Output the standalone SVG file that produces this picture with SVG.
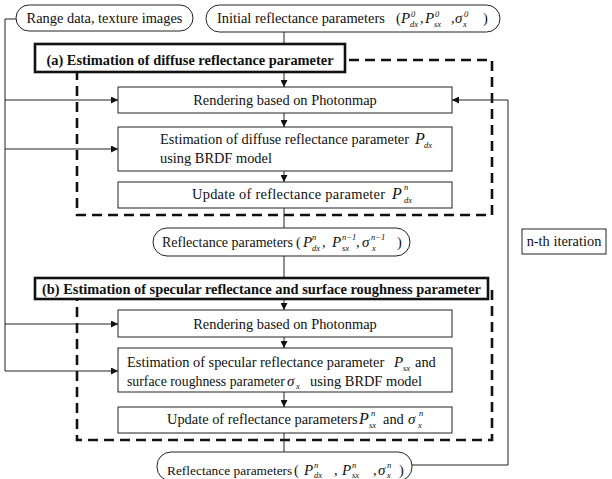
<svg xmlns="http://www.w3.org/2000/svg" width="612" height="479" viewBox="0 0 612 479" font-family="Liberation Serif, DejaVu Serif, serif">
<defs>
<marker id="arr" markerUnits="userSpaceOnUse" markerWidth="7" markerHeight="7" refX="7" refY="3.5" orient="auto">
<path d="M0,0 L7,3.5 L0,7 z" fill="#111"/>
</marker>
<style>
text{font-family:'Liberation Serif','DejaVu Serif',serif;font-size:14.4px;fill:#111}
.b{font-weight:bold}
.m{font-style:italic;font-size:15px}
.s{font-size:8.5px;font-style:italic}
.box{fill:#fff;stroke:#222;stroke-width:1}
.hdr{fill:#fff;stroke:#111;stroke-width:2.6}
.dash{fill:none;stroke:#111;stroke-width:2.6;stroke-dasharray:10,6}
.ln{fill:none;stroke:#222;stroke-width:1}
</style>
</defs>
<rect width="612" height="479" fill="#fff"/>

<g id="dashed-frames">
<rect class="dash" x="77" y="60" width="415" height="155"/>
<rect class="dash" x="77" y="289" width="415" height="151"/>
</g>

<g id="connectors">
<path class="ln" d="M16,19 H5 V371"/>
<path class="ln" d="M5,100 H118" marker-end="url(#arr)"/>
<path class="ln" d="M5,149 H118" marker-end="url(#arr)"/>
<path class="ln" d="M5,324 H118" marker-end="url(#arr)"/>
<path class="ln" d="M5,371 H118" marker-end="url(#arr)"/>
<path class="ln" d="M284,32 V44"/>
<path class="ln" d="M284,72 V87" marker-end="url(#arr)"/>
<path class="ln" d="M284,113 V127" marker-end="url(#arr)"/>
<path class="ln" d="M284,171 V182" marker-end="url(#arr)"/>
<path class="ln" d="M284,208 V228"/>
<path class="ln" d="M284,256 V278"/>
<path class="ln" d="M284,299 V310" marker-end="url(#arr)"/>
<path class="ln" d="M284,337 V348" marker-end="url(#arr)"/>
<path class="ln" d="M284,392 V407" marker-end="url(#arr)"/>
<path class="ln" d="M284,433 V452"/>
<path class="ln" d="M412,465 H508 V100 H452" marker-end="url(#arr)"/>
</g>

<g id="range-data">
<rect class="box" x="16" y="5" width="177" height="26" rx="13"/>
<text x="104.5" y="23" text-anchor="middle">Range data, texture images</text>
</g>

<g id="initial-params">
<rect class="box" x="206" y="5" width="294" height="27" rx="13.5"/>
<text x="217" y="23">Initial reflectance parameters</text>
<text x="396" y="23">(</text>
<text class="m" x="401" y="23">P</text><text class="s" x="411" y="17">0</text><text class="s" x="410" y="27">dx</text>
<text x="420" y="23">,</text>
<text class="m" x="425" y="23">P</text><text class="s" x="435" y="17">0</text><text class="s" x="434" y="27">sx</text>
<text x="451" y="23">,</text>
<text class="m" x="455" y="23">σ</text><text class="s" x="464" y="17">0</text><text class="s" x="463" y="27">x</text>
<text x="483" y="23">)</text>
</g>

<g id="header-a">
<rect class="hdr" x="35" y="44" width="310" height="28"/>
<text class="b" x="190" y="65" text-anchor="middle">(a) Estimation of diffuse reflectance parameter</text>
</g>

<g id="rendering-a">
<rect class="box" x="118" y="87" width="334" height="26"/>
<text x="285" y="105" text-anchor="middle">Rendering based on Photonmap</text>
</g>

<g id="estimation-a">
<rect class="box" x="118" y="127" width="334" height="44"/>
<text x="160" y="144">Estimation of diffuse reflectance parameter</text>
<text class="m" x="415" y="144" style="font-size:16px">P</text><text class="s" x="424" y="148">dx</text>
<text x="160" y="163">using BRDF model</text>
</g>

<g id="update-a">
<rect class="box" x="118" y="182" width="334" height="26"/>
<text x="192" y="199" textLength="193" lengthAdjust="spacing">Update of reflectance parameter</text>
<text class="m" x="392" y="199" style="font-size:16px">P</text><text class="s" x="404" y="190">n</text><text class="s" x="404" y="203">dx</text>
</g>

<g id="params-mid">
<rect class="box" x="153" y="228" width="257" height="28" rx="14"/>
<text x="162" y="247" style="font-size:14px">Reflectance parameters</text>
<text x="296" y="247">(</text>
<text class="m" x="303" y="247">P</text><text class="s" x="312" y="240">n</text><text class="s" x="312" y="251">dx</text>
<text x="322" y="247">,</text>
<text class="m" x="332" y="247">P</text><text class="s" x="342" y="240">n−1</text><text class="s" x="342" y="251">sx</text>
<text x="356" y="247">,</text>
<text class="m" x="362" y="247">σ</text><text class="s" x="371" y="240">n−1</text><text class="s" x="372" y="251">x</text>
<text x="397" y="247">)</text>
</g>

<g id="iteration">
<rect class="box" x="522" y="229" width="84" height="25"/>
<text x="564" y="246" text-anchor="middle">n-th iteration</text>
</g>

<g id="header-b">
<rect class="hdr" x="35" y="278" width="453" height="21"/>
<text class="b" x="261.5" y="294" text-anchor="middle">(b) Estimation of specular reflectance and surface roughness parameter</text>
</g>

<g id="rendering-b">
<rect class="box" x="118" y="310" width="334" height="27"/>
<text x="285" y="329" text-anchor="middle">Rendering based on Photonmap</text>
</g>

<g id="estimation-b">
<rect class="box" x="118" y="348" width="334" height="44"/>
<text x="127" y="367">Estimation of specular reflectance parameter</text>
<text class="m" x="394" y="367">P</text><text class="s" x="403" y="371">sx</text>
<text x="415" y="367">and</text>
<text x="127" y="386" style="font-size:13.8px">surface roughness parameter</text>
<text class="m" x="287" y="386">σ</text><text class="s" x="296" y="389">x</text>
<text x="310" y="386">using BRDF model</text>
</g>

<g id="update-b">
<rect class="box" x="118" y="407" width="334" height="26"/>
<text x="167" y="424">Update of reflectance parameters</text>
<text class="m" x="359" y="424" style="font-size:16px">P</text><text class="s" x="371" y="416">n</text><text class="s" x="369" y="428">sx</text>
<text x="383" y="424">and</text>
<text class="m" x="408" y="424">σ</text><text class="s" x="419" y="416">n</text><text class="s" x="418" y="428">x</text>
</g>

<g id="params-final">
<rect class="box" x="157" y="452" width="255" height="29" rx="14"/>
<text x="167" y="475" style="font-size:13.4px">Reflectance parameters</text>
<text x="294" y="475">(</text>
<text class="m" x="304" y="475">P</text><text class="s" x="314" y="468">n</text><text class="s" x="314" y="478">dx</text>
<text x="334" y="475">,</text>
<text class="m" x="342" y="475">P</text><text class="s" x="352" y="468">n</text><text class="s" x="352" y="478">sx</text>
<text x="373" y="475">,</text>
<text class="m" x="378" y="475">σ</text><text class="s" x="387" y="468">n</text><text class="s" x="387" y="478">x</text>
<text x="399" y="475">)</text>
</g>
</svg>
